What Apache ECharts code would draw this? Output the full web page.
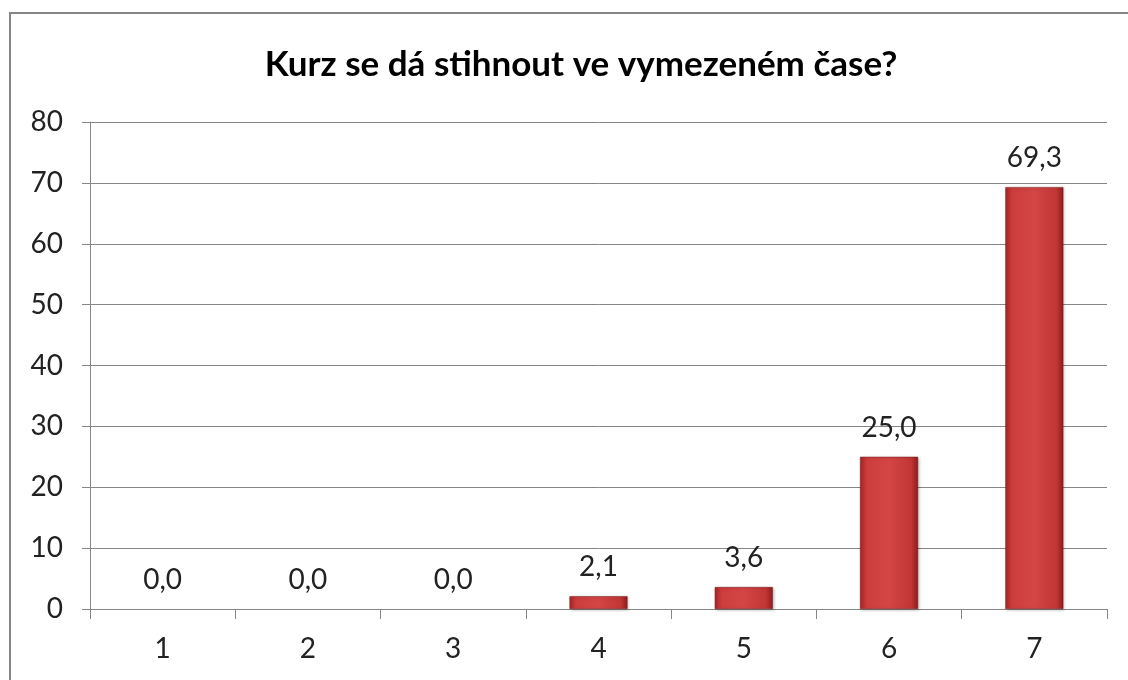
<!DOCTYPE html>
<html><head><meta charset="utf-8">
<script src="https://cdn.jsdelivr.net/npm/echarts@6/dist/echarts.min.js"></script>
<style>
html,body{margin:0;padding:0;background:#fff;width:1128px;height:680px;overflow:hidden;}
#frame{position:absolute;left:9px;top:12px;width:1200px;height:800px;border-left:2.5px solid #868686;border-top:2.5px solid #868686;box-sizing:border-box;}
#c{position:absolute;left:0;top:0;width:1128px;height:680px;}
</style></head>
<body>
<div id="frame"></div>
<div id="c"></div>
<script>
const title = "Kurz se dá stihnout ve vymezeném čase?";
const categories = ["1","2","3","4","5","6","7"];
const values = [0.0, 0.0, 0.0, 2.1, 3.6, 25.0, 69.3];
const yTicks = {min: 0, max: 80, interval: 10};

const chart = echarts.init(document.getElementById('c'), null, {renderer: 'canvas'});
const FONT = 'Lato';
const barColor = new echarts.graphic.LinearGradient(0, 0, 1, 0, [
  {offset: 0, color: '#a82626'},
  {offset: 0.12, color: '#cc3d3d'},
  {offset: 0.5, color: '#d44545'},
  {offset: 0.88, color: '#c23636'},
  {offset: 1, color: '#8e1c1c'}
]);
const seriesData = values.map(v => v === 0
  ? {value: v, itemStyle: {opacity: 0}}
  : {value: v});
chart.setOption({
  animation: false,
  backgroundColor: 'transparent',
  title: {
    text: title, left: 576, top: 42, textAlign: 'center',
    textStyle: {fontFamily: FONT, fontWeight: 'bold', fontSize: 35, color: '#000'}
  },
  grid: {left: 90, right: 21, top: 122, bottom: 71, containLabel: false},
  xAxis: {
    type: 'category', data: categories,
    axisLine: {lineStyle: {color: '#868686', width: 1}},
    axisTick: {show: true, length: 10, lineStyle: {color: '#868686'}},
    axisLabel: {fontFamily: FONT, fontSize: 28, color: '#222', margin: 26},
    splitLine: {show: false}
  },
  yAxis: {
    type: 'value', min: yTicks.min, max: yTicks.max, interval: yTicks.interval,
    axisLine: {show: true, lineStyle: {color: '#868686', width: 1}},
    axisTick: {show: true, length: 8, lineStyle: {color: '#868686'}},
    axisLabel: {fontFamily: FONT, fontSize: 28, color: '#222', margin: 27},
    splitLine: {show: true, lineStyle: {color: '#868686', width: 1}}
  },
  series: [{
    type: 'bar', data: seriesData, barWidth: 58,
    itemStyle: {color: barColor, borderColor: '#7a1818', borderWidth: 0.5,
      shadowColor: 'rgba(0,0,0,0.25)', shadowBlur: 3, shadowOffsetX: 1, shadowOffsetY: 1},
    label: {show: true, position: 'top', distance: 15, opacity: 1,
      fontFamily: FONT, fontSize: 28, color: '#222',
      formatter: p => p.value.toFixed(1).replace('.', ',')}
  }]
});
</script>
</body></html>
